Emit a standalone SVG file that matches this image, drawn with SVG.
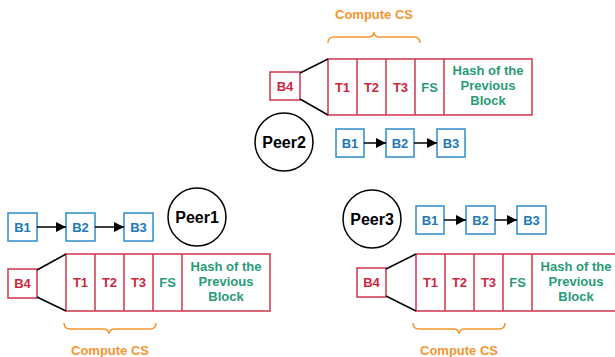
<svg xmlns="http://www.w3.org/2000/svg" width="615" height="357" viewBox="0 0 615 357">
<defs>
<marker id="ah" viewBox="0 0 10 10" refX="10" refY="5" markerWidth="10" markerHeight="10" markerUnits="userSpaceOnUse" orient="auto"><path d="M0,0 L10,5 L0,10 z" fill="#000"/></marker>
<style>
text{font-family:"Liberation Sans",Arial,sans-serif;font-weight:bold;text-anchor:middle;dominant-baseline:central}
.red{fill:#fff;stroke:#d2344c;stroke-width:1.5}
.blue{fill:#fff;stroke:#2d8bc7;stroke-width:1.5}
.peer{fill:#fff;stroke:#000;stroke-width:1.5}
.rt{fill:#c9283e;font-size:13px}
.gt{fill:#279b78;font-size:13px}
.bt{fill:#2078b8;font-size:13px}
.pt{fill:#000;font-size:16px}
.ot{fill:#f39530;font-size:13px}
.brace{fill:none;stroke:#f39530;stroke-width:1.5}
.line{stroke:#000;stroke-width:1.5;fill:none}
.arr{stroke:#000;stroke-width:1.5;marker-end:url(#ah)}
</style>
</defs>

<!-- Peer nodes -->
<g id="peer1"><circle class="peer" cx="197" cy="217" r="29"/><text class="pt" x="197" y="217">Peer1</text></g>
<g id="peer2"><circle class="peer" cx="284" cy="142" r="29"/><text class="pt" x="284" y="142">Peer2</text></g>
<g id="peer3"><circle class="peer" cx="372" cy="219" r="29"/><text class="pt" x="372" y="219">Peer3</text></g>

<!-- Peer2 chain -->
<g id="p2-b1"><rect class="blue" x="336" y="129" width="28" height="28"/><text class="bt" x="350" y="143">B1</text></g>
<g id="p2-b2"><rect class="blue" x="386" y="129" width="28" height="28"/><text class="bt" x="400" y="143">B2</text></g>
<g id="p2-b3"><rect class="blue" x="437" y="129" width="28" height="28"/><text class="bt" x="451" y="143">B3</text></g>

<!-- Peer1 chain -->
<g id="p1-b1"><rect class="blue" x="8" y="213" width="29" height="28"/><text class="bt" x="22.5" y="227">B1</text></g>
<g id="p1-b2"><rect class="blue" x="66" y="213" width="29" height="28"/><text class="bt" x="80.5" y="227">B2</text></g>
<g id="p1-b3"><rect class="blue" x="124" y="213" width="29" height="28"/><text class="bt" x="138.5" y="227">B3</text></g>

<!-- Peer3 chain -->
<g id="p3-b1"><rect class="blue" x="416" y="206" width="28" height="28"/><text class="bt" x="430" y="220">B1</text></g>
<g id="p3-b2"><rect class="blue" x="466" y="206" width="29" height="28"/><text class="bt" x="480.5" y="220">B2</text></g>
<g id="p3-b3"><rect class="blue" x="517" y="206" width="29" height="28"/><text class="bt" x="531.5" y="220">B3</text></g>

<!-- Top block (Peer2) -->
<g id="p2-b4"><rect class="red" x="270" y="72" width="30" height="28"/><text class="rt" x="285" y="86">B4</text></g>
<g id="p2-block">
<rect class="red" x="328" y="59" width="204" height="56"/>
<path class="red" d="M357,59V115M386,59V115M415,59V115M444,59V115"/>
<text class="rt" x="342.5" y="87">T1</text>
<text class="rt" x="371.5" y="87">T2</text>
<text class="rt" x="400.5" y="87">T3</text>
<text class="gt" x="429.5" y="87">FS</text>
<text class="gt" x="488" y="70">Hash of the</text>
<text class="gt" x="488" y="85">Previous</text>
<text class="gt" x="488" y="100">Block</text>
</g>
<g id="p2-cs"><path class="brace" d="M328,43 Q328,37 334,37 L368,37 Q374,37 374,32 Q374,37 380,37 L414,37 Q420,37 420,43"/><text class="ot" x="374" y="14">Compute CS</text></g>

<!-- Peer1 block -->
<g id="p1-b4"><rect class="red" x="8" y="269" width="29" height="29"/><text class="rt" x="22.5" y="283.5">B4</text></g>
<g id="p1-block">
<rect class="red" x="66" y="254" width="204" height="57"/>
<path class="red" d="M95,254V311M124,254V311M153,254V311M182,254V311"/>
<text class="rt" x="80.5" y="282">T1</text>
<text class="rt" x="109.5" y="282">T2</text>
<text class="rt" x="138.5" y="282">T3</text>
<text class="gt" x="167.5" y="282">FS</text>
<text class="gt" x="226" y="266">Hash of the</text>
<text class="gt" x="226" y="281">Previous</text>
<text class="gt" x="226" y="296">Block</text>
</g>
<g id="p1-cs"><path class="brace" d="M64,323 Q64,329 70,329 L103,329 Q109,329 109,334 Q109,329 115,329 L150,329 Q156,329 156,323"/><text class="ot" x="110" y="350">Compute CS</text></g>

<!-- Peer3 block -->
<g id="p3-b4"><rect class="red" x="357" y="268" width="29" height="29"/><text class="rt" x="371.5" y="282.5">B4</text></g>
<g id="p3-block">
<rect class="red" x="416" y="254" width="204" height="57"/>
<path class="red" d="M445,254V311M474,254V311M503,254V311M532,254V311"/>
<text class="rt" x="430.5" y="282">T1</text>
<text class="rt" x="459.5" y="282">T2</text>
<text class="rt" x="488.5" y="282">T3</text>
<text class="gt" x="517.5" y="282">FS</text>
<text class="gt" x="576" y="266">Hash of the</text>
<text class="gt" x="576" y="281">Previous</text>
<text class="gt" x="576" y="296">Block</text>
</g>
<g id="p3-cs"><path class="brace" d="M413,323 Q413,329 419,329 L453,329 Q459,329 459,334 Q459,329 465,329 L499,329 Q505,329 505,323"/><text class="ot" x="459" y="350">Compute CS</text></g>

<!-- Connectors -->
<g id="connectors">
<line class="arr" x1="364" y1="143" x2="386" y2="143"/>
<line class="arr" x1="414" y1="143" x2="437" y2="143"/>
<line class="arr" x1="37" y1="227" x2="66" y2="227"/>
<line class="arr" x1="95" y1="227" x2="124" y2="227"/>
<line class="arr" x1="444" y1="220" x2="466" y2="220"/>
<line class="arr" x1="495" y1="220" x2="517" y2="220"/>
<line class="line" x1="300" y1="73" x2="328" y2="59"/>
<line class="line" x1="300" y1="99" x2="328" y2="115"/>
<line class="line" x1="37" y1="270" x2="66" y2="254"/>
<line class="line" x1="37" y1="297" x2="66" y2="311"/>
<line class="line" x1="386" y1="269" x2="416" y2="254"/>
<line class="line" x1="386" y1="296" x2="416" y2="311"/>
</g>
</svg>
